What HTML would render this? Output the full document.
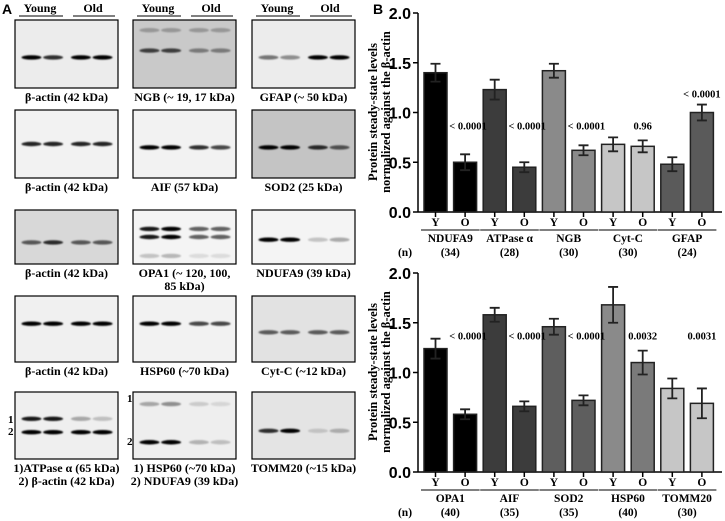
<!DOCTYPE html>
<html><head><meta charset="utf-8"><style>
body{margin:0;background:#fff}
svg{display:block}
.s{font-family:"Liberation Serif",serif;font-weight:bold}
.a{font-family:"Liberation Sans",sans-serif;font-weight:bold}
</style></head><body>
<svg id="fig" width="725" height="521" viewBox="0 0 725 521" xmlns="http://www.w3.org/2000/svg">
<defs><filter id="bl" x="-20%" y="-200%" width="140%" height="500%"><feGaussianBlur stdDeviation="0.9"/></filter></defs>
<text x="2" y="14" class="a" font-size="14">A</text>
<text x="373" y="14" class="a" font-size="14">B</text>
<g id="blots"></g>
<g id="charts"></g>
</svg>
<script>
const NS="http://www.w3.org/2000/svg";
function mk(tag,attrs,parent){const e=document.createElementNS(NS,tag);for(const k in attrs)e.setAttribute(k,attrs[k]);parent.appendChild(e);return e;}
const blots=document.getElementById('blots');
const colX=[15,133,252], colW=103;
const rowY=[[20,88],[110,178],[210,264],[296,362],[392,459]];
colX.forEach((x,i)=>{
  const h=mk('text',{x:x+25,y:12,'font-size':12,'text-anchor':'middle',class:'s'},blots);h.textContent='Young';
  
  const o=mk('text',{x:x+78,y:12,'font-size':12,'text-anchor':'middle',class:'s'},blots);o.textContent='Old';
  
  mk('line',{x1:x+4,x2:x+48,y1:16,y2:16,stroke:'#000','stroke-width':1},blots);
  mk('line',{x1:x+58,x2:x+100,y1:16,y2:16,stroke:'#000','stroke-width':1},blots);
});
const panels=[
 [0,0,'#ececec',['β-actin (42 kDa)'],[[0.55,[1,0.8,1,1]]]],
 [1,0,'#c9c9c9',['NGB (~ 19, 17 kDa)'],[[0.45,[0.7,0.7,0.4,0.4]],[0.15,[0.25,0.25,0.25,0.25]]]],
 [2,0,'#ececec',['GFAP (~ 50 kDa)'],[[0.55,[0.5,0.4,1,1]]]],
 [0,1,'#f2f2f2',['β-actin (42 kDa)'],[[0.5,[0.85,0.85,0.85,0.85]]]],
 [1,1,'#f2f2f2',['AIF (57 kDa)'],[[0.55,[1,1,0.8,0.7]]]],
 [2,1,'#c4c4c4',['SOD2 (25 kDa)'],[[0.55,[1,1,0.8,0.6]]]],
 [0,2,'#d8d8d8',['β-actin (42 kDa)'],[[0.6,[0.6,0.8,0.6,0.6]]]],
 [1,2,'#f4f4f4',['OPA1 (~ 120, 100,','85 kDa)'],[[0.35,[0.9,1,0.6,0.6]],[0.5,[0.9,1,0.6,0.6]],[0.85,[0.2,0.25,0.1,0.1]]]],
 [2,2,'#f4f4f4',['NDUFA9 (39 kDa)'],[[0.55,[1,1,0.2,0.3]]]],
 [0,3,'#f0f0f0',['β-actin (42 kDa)'],[[0.42,[1,1,1,1]]]],
 [1,3,'#f2f2f2',['HSP60 (~70 kDa)'],[[0.42,[1,1,0.7,0.7]]]],
 [2,3,'#e2e2e2',['Cyt-C (~12 kDa)'],[[0.55,[0.6,0.6,0.6,0.6]]]],
 [0,4,'#efefef',['1)ATPase α (65 kDa)','2) β-actin (42 kDa)'],[[0.4,[0.9,0.9,0.3,0.2]],[0.6,[1,1,1,1]]]],
 [1,4,'#eeeeee',['1) HSP60 (~70 kDa)','2) NDUFA9 (39 kDa)'],[[0.18,[0.3,0.4,0.15,0.1]],[0.75,[1,1,0.25,0.2]]]],
 [2,4,'#e4e4e4',['TOMM20 (~15 kDa)'],[[0.58,[0.8,1,0.15,0.25]]]]
];
const lanes=[0.16,0.37,0.64,0.85];
panels.forEach(p=>{
  const x=colX[p[0]], y0=rowY[p[1]][0], y1=rowY[p[1]][1], h=y1-y0;
  const r=mk('rect',{x:x,y:y0,width:colW,height:h,fill:p[2],stroke:'#000','stroke-width':1.2},blots);
  
  p[4].forEach(b=>{b[1].forEach((v,i)=>{
    mk('ellipse',{cx:x+lanes[i]*colW,cy:y0+b[0]*h,rx:10,ry:2.2,fill:'#000','fill-opacity':v,filter:'url(#bl)'},blots);
  });});
  p[3].forEach((t,i)=>{
    const l=mk('text',{x:x+colW/2,y:y1+13+i*13,'font-size':12,'text-anchor':'middle',class:'s'},blots);l.textContent=t;
    
  });
});
[[8,423,'1'],[8,435,'2'],[127,402,'1'],[127,445,'2']].forEach(q=>{const t=mk('text',{x:q[0],y:q[1],'font-size':11,class:'s'},blots);t.textContent=q[2];});

// ===== charts data =====
const topCats=['NDUFA9','ATPase α','NGB','Cyt-C','GFAP'];
const topN=['(34)','(28)','(30)','(30)','(24)'];
const topY=[1.40,1.23,1.42,0.68,0.48];
const topYErr=[0.09,0.10,0.07,0.07,0.07];
const topO=[0.50,0.45,0.62,0.66,1.00];
const topOErr=[0.08,0.05,0.05,0.06,0.08];
const topP=['< 0.0001','< 0.0001','< 0.0001','0.96','< 0.0001'];
const topColY=['#000','#3c3c3c','#8a8a8a','#c6c6c6','#5a5a5a'];
const topColO=['#000','#3c3c3c','#8a8a8a','#c6c6c6','#5a5a5a'];
const botCats=['OPA1','AIF','SOD2','HSP60','TOMM20'];
const botN=['(40)','(35)','(35)','(40)','(30)'];
const botY=[1.24,1.58,1.46,1.68,0.84];
const botYErr=[0.10,0.07,0.08,0.18,0.10];
const botO=[0.58,0.66,0.72,1.10,0.69];
const botOErr=[0.05,0.05,0.05,0.12,0.15];
const botP=['< 0.0001','< 0.0001','< 0.0001','0.0032','0.0031'];
const botColY=['#000','#3c3c3c','#5e5e5e','#8a8a8a','#c6c6c6'];
const botColO=['#000','#3c3c3c','#5e5e5e','#7a7a7a','#c6c6c6'];
const yTicks=[0,0.5,1.0,1.5,2.0];

const charts=document.getElementById('charts');
function drawChart(yZero,cats,ns,vy,ey,vo,eo,pv,cy,co,pOnO,pLevel){
  const g=mk('g',{},charts);
  
  const axX=418, ppu=99.5, w=23, step=29.6;
  const sy=v=>yZero-v*ppu;
  const gx=i=>424+i*2*step;
  mk('line',{x1:axX,x2:axX,y1:sy(2),y2:yZero,stroke:'#000','stroke-width':1.5},g);
  mk('line',{x1:axX,x2:722,y1:yZero,y2:yZero,stroke:'#000','stroke-width':1.5},g);
  yTicks.forEach(t=>{
    mk('line',{x1:axX-5,x2:axX,y1:sy(t),y2:sy(t),stroke:'#000','stroke-width':1.5},g);
    const tx=mk('text',{x:axX-7,y:sy(t)+6,'font-size':16,'text-anchor':'end',class:'a'},g);tx.textContent=t.toFixed(1);
    
  });
  const t1=mk('text',{transform:`translate(377,${yZero-100}) rotate(-90)`,'font-size':12.5,'text-anchor':'middle',class:'s'},g);t1.textContent='Protein steady-state levels';
  
  const t2=mk('text',{transform:`translate(390,${yZero-100}) rotate(-90)`,'font-size':12.5,'text-anchor':'middle',class:'s'},g);t2.textContent='normalized against the β-actin';
  
  const pl=[];
  cats.forEach((c,i)=>{
    const x=gx(i);
    [[x,vy[i],ey[i],cy[i],'Y'],[x+step,vo[i],eo[i],co[i],'O']].forEach(b=>{
      const r=mk('rect',{x:b[0],y:sy(b[1]),width:w,height:b[1]*ppu,fill:b[3],stroke:'#222','stroke-width':1.5},g);
      
      const cx=b[0]+w/2;
      mk('path',{d:`M${cx-5},${sy(b[1]+b[2])}H${cx+5}M${cx},${sy(b[1]+b[2])}V${sy(b[1]-b[2])}M${cx-5},${sy(b[1]-b[2])}H${cx+5}`,stroke:'#222','stroke-width':1.8,fill:'none'},g);
      mk('line',{x1:cx,x2:cx,y1:yZero,y2:yZero+5,stroke:'#000','stroke-width':1.5},g);
      const l=mk('text',{x:cx,y:yZero+14,'font-size':11.5,'text-anchor':'middle',class:'s'},g);l.textContent=b[4];
    });
    mk('line',{x1:x-3,x2:x+step+w+3,y1:yZero+18,y2:yZero+18,stroke:'#000','stroke-width':1},g);
    const nm=mk('text',{x:x+(step+w)/2,y:yZero+30,'font-size':11.5,'text-anchor':'middle',class:'s'},g);nm.textContent=c;
    
    const nn=mk('text',{x:x+(step+w)/2,y:yZero+44,'font-size':11.5,'text-anchor':'middle',class:'s'},g);nn.textContent=ns[i];
    const pvY=Math.min(sy(pLevel), sy(vo[i]+eo[i])-7);
    pl.push([pOnO[i]?x+step+w/2:x+44,pvY,pv[i]]);
  });
  pl.forEach(q=>{
    const pp=mk('text',{x:q[0],y:q[1],'font-size':10.5,'text-anchor':'middle',class:'s'},g);pp.textContent=q[2];
    
  });
  const nl=mk('text',{x:405,y:yZero+44,'font-size':11.5,'text-anchor':'middle',class:'s'},g);nl.textContent='(n)';
}
drawChart(212,topCats,topN,topY,topYErr,topO,topOErr,topP,topColY,topColO,[false,false,false,true,true],0.83);
drawChart(472,botCats,botN,botY,botYErr,botO,botOErr,botP,botColY,botColO,[false,false,false,true,true],1.33);
</script>
</body></html>
